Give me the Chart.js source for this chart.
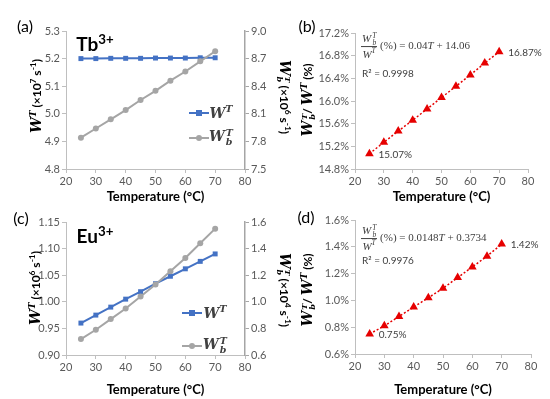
<!DOCTYPE html>
<html>
<head>
<meta charset="utf-8">
<script src="https://cdn.jsdelivr.net/npm/chart.js@4.4.1/dist/chart.umd.min.js"></script>
<style>
  body { margin: 0; background: #fff; }
  #wrap { position: relative; width: 550px; height: 399px; overflow: hidden; font-family: Lato, "Liberation Sans", sans-serif; }
  canvas { position: absolute; }
  .t { position: absolute; white-space: nowrap; transform: translate(-50%, -50%); }
  .rl { transform: translate(-50%, -50%) rotate(-90deg); }
  .rr { transform: translate(-50%, -50%) rotate(90deg); }
  .ytl { font-weight: bold; font-size: 12px; color: #000; }
  .m { font-family: "DejaVu Serif", "Liberation Serif", serif; font-style: italic; font-weight: bold; font-size: 14px; }
  .ss { display: inline-flex; flex-direction: column; vertical-align: middle; font-size: 0.68em; line-height: 0.95; margin-left: 1px; }
  sup { font-size: 0.7em; }
  .panel { font-size: 16px; color: #000; }
  .ion { font-size: 19px; font-weight: bold; color: #000; }
  .leg { font-family: "DejaVu Serif", serif; font-style: italic; font-weight: bold; font-size: 14px; color: #404040; }
  .eq { font-family: "Liberation Serif", serif; font-size: 11px; color: #404040; transform: translate(0, -50%); }
  .frac { display: inline-flex; flex-direction: column; vertical-align: middle; text-align: center; font-size: 11px; line-height: 1.0; }
  .frac .num { border-bottom: 1px solid #404040; padding: 0 1px; }
  .r2 { font-size: 10px; color: #404040; transform: translate(0, -50%); }
  .lm { position: absolute; transform: translate(0, -50%); width: 20px; height: 2px; }
  .lm i { position: absolute; left: 7px; top: -2px; width: 6px; height: 6px; }
</style>
</head>
<body>
<div id="wrap">
  <canvas id="ca" style="left:0;top:0" width="275" height="205"></canvas>
  <canvas id="cb" style="left:275px;top:0" width="275" height="205"></canvas>
  <canvas id="cc" style="left:0;top:195px" width="275" height="204"></canvas>
  <canvas id="cd" style="left:275px;top:195px" width="275" height="204"></canvas>

  <div class="t panel" style="left:25px;top:25px">(a)</div>
  <div class="t panel" style="left:307px;top:25px">(b)</div>
  <div class="t panel" style="left:21px;top:217px">(c)</div>
  <div class="t panel" style="left:306px;top:216px">(d)</div>

  <div class="t ion" style="left:95px;top:43px">Tb<sup>3+</sup></div>
  <div class="t ion" style="left:95px;top:235px">Eu<sup>3+</sup></div>

  <!-- y titles -->
  <div class="t rl ytl" style="left:36px;top:96px"><span class="m">W</span><sup class="m" style="font-size:9px">T</sup> (×10<sup>7</sup> s<sup>-1</sup>)</div>
  <div class="t rr ytl" style="left:284px;top:97px"><span class="m">W</span><span class="ss m"><span>T</span><span>b</span></span> (×10<sup>6</sup> s<sup>-1</sup>)</div>
  <div class="t rl ytl" style="left:308px;top:100px"><span class="m">W</span><span class="ss m"><span>T</span><span>b</span></span>/ <span class="m">W</span><sup class="m" style="font-size:9px">T</sup> (%)</div>
  <div class="t rl ytl" style="left:35px;top:288px"><span class="m">W</span><sup class="m" style="font-size:9px">T</sup> (×10<sup>6</sup> s<sup>-1</sup>)</div>
  <div class="t rr ytl" style="left:284px;top:290px"><span class="m">W</span><span class="ss m"><span>T</span><span>b</span></span> (×10<sup>4</sup> s<sup>-1</sup>)</div>
  <div class="t rl ytl" style="left:308px;top:290px"><span class="m">W</span><span class="ss m"><span>T</span><span>b</span></span>/ <span class="m">W</span><sup class="m" style="font-size:9px">T</sup> (%)</div>

  <!-- legends -->
  <div class="lm" style="left:189px;top:113px;background:#4472c4"><i style="background:#4472c4"></i></div>
  <div class="t leg" style="left:221px;top:112px">W<sup>T</sup></div>
  <div class="lm" style="left:189px;top:138px;background:#a5a5a5"><i style="background:#a5a5a5;border-radius:3px"></i></div>
  <div class="t leg" style="left:221px;top:137px">W<span class="ss"><span>T</span><span>b</span></span></div>
  <div class="lm" style="left:182px;top:313px;background:#4472c4"><i style="background:#4472c4"></i></div>
  <div class="t leg" style="left:215px;top:312px">W<sup>T</sup></div>
  <div class="lm" style="left:182px;top:346px;background:#a5a5a5"><i style="background:#a5a5a5;border-radius:3px"></i></div>
  <div class="t leg" style="left:215px;top:345px">W<span class="ss"><span>T</span><span>b</span></span></div>

  <!-- equations -->
  <div class="t eq" style="left:361px;top:46px"><span class="frac"><span class="num"><i>W</i><span class="ss"><i>T</i><i>b</i></span></span><span><i>W<sup>T</sup></i></span></span> (%) = 0.04<i>T</i> + 14.06</div>
  <div class="t r2" style="left:362px;top:73px">R² = 0.9998</div>
  <div class="t eq" style="left:361px;top:238px"><span class="frac"><span class="num"><i>W</i><span class="ss"><i>T</i><i>b</i></span></span><span><i>W<sup>T</sup></i></span></span> (%) = 0.0148<i>T</i> + 0.3734</div>
  <div class="t r2" style="left:362px;top:260px">R² = 0.9976</div>
</div>

<script>
const temps = [25, 30, 35, 40, 45, 50, 55, 60, 65, 70];

// Tb3+
const tbW = [5.200, 5.200, 5.201, 5.201, 5.201, 5.202, 5.202, 5.202, 5.203, 5.203];
const tbWb = [7.84, 7.94, 8.04, 8.14, 8.25, 8.35, 8.46, 8.56, 8.67, 8.78];
const tbRatio = [15.07, 15.27, 15.47, 15.66, 15.86, 16.06, 16.26, 16.46, 16.67, 16.87];

// Eu3+
const euW = [0.960, 0.975, 0.990, 1.005, 1.019, 1.034, 1.048, 1.062, 1.076, 1.090];
const euWb = [0.72, 0.79, 0.87, 0.95, 1.04, 1.13, 1.23, 1.33, 1.44, 1.55];
const euRatio = [0.75, 0.81, 0.88, 0.95, 1.02, 1.09, 1.17, 1.25, 1.33, 1.42];

const xTicks = { min: 20, max: 80, step: 10 };

const blue = "#4472c4";
const gray = "#a5a5a5";
const red = "#e60000";
const tickColor = "#595959";
const axisColor = "#bfbfbf";

const endLabels = {
  id: "endLabels",
  afterDatasetsDraw(chart, args, opts) {
    if (!opts.on) return;
    const ctx = chart.ctx;
    const meta = chart.getDatasetMeta(0);
    const vals = chart.data.datasets[0].data;
    const first = meta.data[0];
    const last = meta.data[meta.data.length - 1];
    ctx.save();
    ctx.font = "10px Lato";
    ctx.fillStyle = "#404040";
    ctx.textBaseline = "middle";
    ctx.fillText(vals[0].y.toFixed(2) + "%", first.x + 9, first.y + 1);
    ctx.fillText(vals[vals.length - 1].y.toFixed(2) + "%", last.x + 9, last.y + 1);
    ctx.restore();
  }
};

function pts(ys) {
  return temps.map((t, i) => ({ x: t, y: ys[i] }));
}

function xScale(h, titlePad) {
  return {
    type: "linear", min: xTicks.min, max: xTicks.max,
    ticks: { stepSize: xTicks.step, color: tickColor, font: { family: "Lato", size: 11 }, padding: 2 },
    grid: { drawOnChartArea: false, tickLength: 4, color: axisColor },
    border: { color: axisColor },
    title: { display: true, text: "Temperature (°C)", color: "#000", font: { family: "Lato", size: 13, weight: "bold" }, padding: { top: 0, bottom: titlePad } },
    afterFit(s) { s.height = h; }
  };
}

function yScale(min, max, step, fmt, w, pos, col, bw) {
  return {
    type: "linear", position: pos, min: min, max: max,
    ticks: { stepSize: step, color: tickColor, font: { family: "Lato", size: 11 }, padding: 2, callback: fmt },
    grid: { drawOnChartArea: false, tickLength: 4, color: col },
    border: { color: col, width: bw },
    afterFit(s) { s.width = w; }
  };
}

function lineSet(ys, color, style, r, axis, order) {
  return {
    data: pts(ys), yAxisID: axis, order: order,
    borderColor: color, backgroundColor: color, borderWidth: 2,
    pointStyle: style, pointRadius: r, pointBorderWidth: 0, tension: 0
  };
}

function ratioSet(ys) {
  return {
    data: pts(ys), yAxisID: "y",
    borderColor: red, backgroundColor: red, borderWidth: 1.5, borderDash: [2, 2],
    pointStyle: "triangle", pointRadius: 5, pointBorderWidth: 0, tension: 0
  };
}

const common = {
  responsive: false, animation: false,
  plugins: { legend: { display: false }, tooltip: { enabled: false } }
};

// (a)
new Chart(document.getElementById("ca"), {
  type: "line",
  data: { datasets: [lineSet(tbWb, gray, "circle", 3, "y1", 0), lineSet(tbW, blue, "rect", 3.5, "y", 1)] },
  options: {
    ...common,
    layout: { padding: { top: 31, left: 0, right: 0, bottom: 0 } },
    scales: {
      x: xScale(36, 0),
      y: yScale(4.8, 5.3, 0.1, v => v.toFixed(1), 66, "left", axisColor, 1),
      y1: yScale(7.5, 9.0, 0.3, v => v.toFixed(1), 30, "right", gray, 1.5)
    }
  }
});

// (b)
new Chart(document.getElementById("cb"), {
  type: "line",
  data: { datasets: [ratioSet(tbRatio)] },
  options: {
    ...common,
    plugins: { ...common.plugins, endLabels: { on: true } },
    layout: { padding: { top: 33, left: 0, right: 22, bottom: 0 } },
    scales: {
      x: xScale(36, 0),
      y: yScale(14.8, 17.2, 0.4, v => v.toFixed(1) + "%", 80, "left", axisColor, 1)
    }
  },
  plugins: [endLabels]
});

// (c)
new Chart(document.getElementById("cc"), {
  type: "line",
  data: { datasets: [lineSet(euWb, gray, "circle", 3, "y1", 0), lineSet(euW, blue, "rect", 3.5, "y", 1)] },
  options: {
    ...common,
    layout: { padding: { top: 27, left: 0, right: 0, bottom: 0 } },
    scales: {
      x: xScale(44, 1),
      y: yScale(0.9, 1.15, 0.05, v => v.toFixed(2), 66, "left", axisColor, 1),
      y1: yScale(0.6, 1.6, 0.2, v => v.toFixed(1), 30, "right", gray, 1.5)
    }
  }
});

// (d)
new Chart(document.getElementById("cd"), {
  type: "line",
  data: { datasets: [ratioSet(euRatio)] },
  options: {
    ...common,
    plugins: { ...common.plugins, endLabels: { on: true } },
    layout: { padding: { top: 25, left: 0, right: 19, bottom: 0 } },
    scales: {
      x: xScale(45, 1),
      y: yScale(0.6, 1.6, 0.2, v => v.toFixed(1) + "%", 80, "left", axisColor, 1)
    }
  },
  plugins: [endLabels]
});
</script>
</body>
</html>
